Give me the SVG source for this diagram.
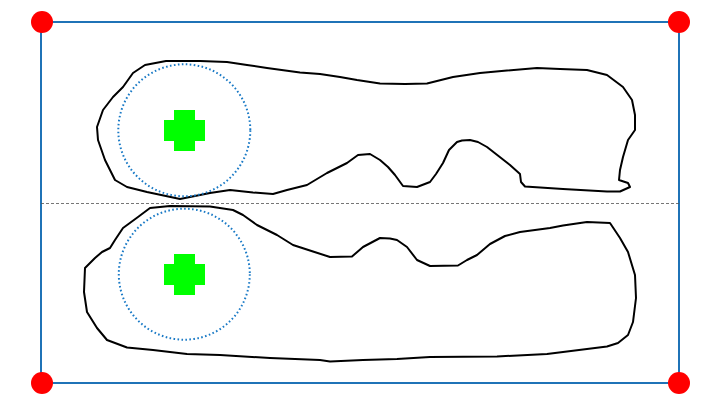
<svg xmlns="http://www.w3.org/2000/svg" width="720" height="405" viewBox="0 0 720 405">
<style>
.frame{fill:none;stroke:#1f73b7;stroke-width:2}
.corner{fill:#ff0000}
.blob{fill:none;stroke:#000;stroke-width:2;stroke-linejoin:round}
.ring{fill:none;stroke:#1a7ac6;stroke-width:2;stroke-dasharray:1.6 2.4}
.plus{fill:#00ff00}
.mid{stroke:#555;stroke-width:1;stroke-dasharray:3 2;opacity:0.8}
</style>
<rect width="720" height="405" fill="#fff"/>
<g id="frame"><rect class="frame" x="41" y="22" width="638" height="361"/></g>
<g id="midline"><line class="mid" x1="41" y1="203.5" x2="679" y2="203.5"/></g>
<g id="blob-top">
<path class="blob" d="M145,65 L166,61 L200,61 L227,62 L247,65 L267,68 L300,72.5 L320,74 L340,77 L357,80 L380,83.5 L405,84 L427,83.5 L453,77 L480,73 L507,70.5 L537,68 L560,69 L587,70 L607,75 L623,87 L632,100 L635,115 L635,130 L628,140 L623,157 L620,170 L619,180 L628,183 L630,187 L620,191.5 L607,191.5 L563,189 L525,186.5 L521,182 L520,174 L510,165 L487,147 L478,142 L470,140 L462,140.5 L457,142 L449,150 L443,163 L436,174 L430,182 L417,187 L403,186 L395,175 L388,167 L380,160 L370,154 L358,155 L347,163 L327,173 L307,185 L287,190 L273,194 L253,192.5 L230,190 L210,193 L180,199 L147,192 L127,187 L115,180 L105,160 L98,140 L97,127 L103,110 L113,97 L123,87 L133,73 Z"/>
</g>
<g id="blob-bottom">
<path class="blob" d="M150,208 L170,206 L210,206.5 L233,210 L243,215 L257,225 L277,235 L293,245 L313,251.5 L330,257 L352,256.5 L363,247 L380,238 L390,238.5 L397,240 L407,247 L417,260 L430,266 L458,265.5 L467,260 L477,255 L490,244 L505,236 L520,232 L550,228 L563,225.5 L587,222 L610,223 L620,238 L628,252 L635,275 L636,298 L633,322 L628,335 L618,343 L607,346.5 L587,349 L547,354 L497,356.5 L430,357 L397,359 L363,360 L330,361.5 L320,360 L270,358 L220,355 L187,354 L153,350 L127,347.5 L107,340 L97,328 L87,312 L84,292 L85,268 L95,258 L102,252 L110,248 L115,240 L123,228 L138,217 Z"/>
</g>
<g id="ring-top"><circle class="ring" cx="184.3" cy="130.3" r="66"/></g>
<g id="ring-bottom"><circle class="ring" cx="184.3" cy="274.2" r="65.5"/></g>
<g id="plus-top"><path class="plus" d="M174,110 H195 V120 H205 V141 H195 V151 H174 V141 H164 V120 H174 Z"/></g>
<g id="plus-bottom"><path class="plus" d="M174,254 H195 V264 H205 V285 H195 V295 H174 V285 H164 V264 H174 Z"/></g>
<g id="corners">
<circle class="corner" cx="42" cy="22" r="11"/>
<circle class="corner" cx="679" cy="22" r="11"/>
<circle class="corner" cx="42" cy="383" r="11"/>
<circle class="corner" cx="679" cy="383" r="11"/>
</g>
</svg>
